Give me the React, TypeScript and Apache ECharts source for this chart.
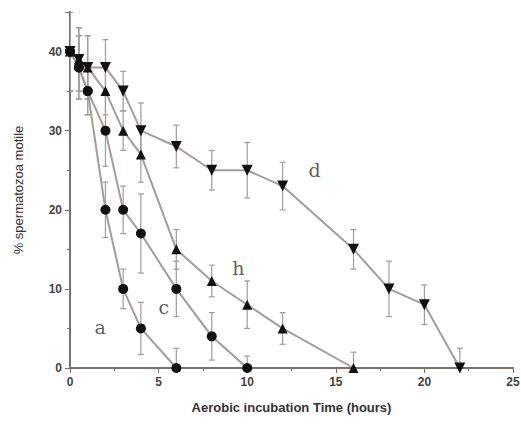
import React, { useEffect, useRef } from "react";
import * as echarts from "echarts";

// Aerobic incubation time (hours) and % motile spermatozoa, per curve
const hoursA = [0, 0.5, 1, 2, 3, 4, 6];
const valuesA = [40, 38, 35, 20, 10, 5, 0];
const errA = [5, 4, 3, 3.5, 2.5, 3.3, 2.5];

const hoursC = [0, 0.5, 1, 2, 3, 4, 6, 8, 10];
const valuesC = [40, 38, 35, 30, 20, 17, 10, 4, 0];
const errC = [5, 4, 3, 4.5, 3, 5, 3.5, 3, 1.5];

const hoursB = [0, 0.5, 1, 2, 3, 4, 6, 8, 10, 12, 16];
const valuesB = [40, 39, 38, 35, 30, 27, 15, 11, 8, 5, 0];
const errB = [5, 4, 4, 3, 2.5, 3.5, 2.5, 2, 3, 2, 2];

const hoursD = [0, 0.5, 1, 2, 3, 4, 6, 8, 10, 12, 16, 18, 20, 22];
const valuesD = [40, 39, 38, 38, 35, 30, 28, 25, 25, 23, 15, 10, 8, 0];
const errD = [5, 4, 4, 3.5, 2.5, 3.5, 2.7, 2.5, 3.5, 3, 2.5, 3.5, 2.5, 2.5];

// curve letters and their anchor positions in data units
const curveLabels = ["a", "c", "h", "d"];
const labelX = [1.7, 5.3, 9.5, 13.8];
const labelY = [5.2, 7.7, 12.7, 25];

const xTicks = [0, 5, 10, 15, 20, 25];
const yTicks = [0, 10, 20, 30, 40];

const DOWN_TRI = "path://M0,0 L10,0 L5,9 Z";

export default function App() {
  const ref = useRef<HTMLDivElement>(null);
  useEffect(() => {
    if (!ref.current) return;
    const chart = echarts.init(ref.current, null, { renderer: "svg" });

    const lineColor = "#a39d99";
    const errColor = "#9d9d9d";
    const axisColor = "#7a716c";

    const mkLine = (name: string, xs: number[], ys: number[], symbol: string, size: number) => ({
      name,
      type: "line",
      data: xs.map((x, i) => [x, ys[i]]),
      symbol,
      symbolSize: size,
      itemStyle: { color: "#111" },
      lineStyle: { color: lineColor, width: 2 },
      z: 3,
      clip: false,
    });

    const errData: number[][] = [];
    const addErr = (xs: number[], ys: number[], es: number[]) =>
      xs.forEach((x, i) => errData.push([x, ys[i] - es[i], ys[i] + es[i]]));
    addErr(hoursA, valuesA, errA);
    addErr(hoursC, valuesC, errC);
    addErr(hoursB, valuesB, errB);
    addErr(hoursD, valuesD, errD);

    chart.setOption({
      animation: false,
      backgroundColor: "#fff",
      grid: { left: 70, right: 8, top: 12, bottom: 57, containLabel: false, outerBoundsMode: "none" },
      xAxis: {
        type: "value",
        min: 0,
        max: 25,
        interval: 5,
        name: "Aerobic incubation Time (hours)",
        nameLocation: "middle",
        nameGap: 33,
        nameTextStyle: { fontFamily: "Liberation Sans", fontWeight: "bold", fontSize: 13, color: "#333" },
        axisLine: { lineStyle: { color: axisColor, width: 2 } },
        axisTick: { length: 5, lineStyle: { color: axisColor } },
        minorTick: { show: true, splitNumber: 2, length: 3, lineStyle: { color: axisColor } },
        splitLine: { show: false },
        axisLabel: {
          fontFamily: "Liberation Sans",
          fontWeight: "bold",
          fontSize: 12,
          color: "#444",
          margin: 8,
          overflow: "none",
          showMaxLabel: true,
          hideOverlap: false,
          formatter: (v: number) => (xTicks.includes(v) ? String(v) : ""),
        },
      },
      yAxis: {
        type: "value",
        min: 0,
        max: 45,
        interval: 10,
        name: "% spermatozoa motile",
        nameLocation: "middle",
        nameGap: 45,
        nameTextStyle: { fontFamily: "Liberation Sans", fontSize: 13, color: "#333" },
        axisLine: { show: true, lineStyle: { color: axisColor, width: 2 } },
        axisTick: { show: true, length: 5, lineStyle: { color: axisColor } },
        minorTick: { show: true, splitNumber: 2, length: 3, lineStyle: { color: axisColor } },
        splitLine: { show: false },
        axisLabel: {
          fontFamily: "Liberation Sans",
          fontWeight: "bold",
          fontSize: 12,
          color: "#444",
          margin: 8,
          formatter: (v: number) => (yTicks.includes(v) ? String(v) : ""),
        },
      },
      series: [
        {
          type: "custom",
          z: 1,
          clip: true,
          data: errData,
          renderItem: (params: any, api: any) => {
            const x = api.value(0);
            const lo = api.coord([x, api.value(1)]);
            const hi = api.coord([x, api.value(2)]);
            const cap = 3;
            const style = { stroke: errColor, lineWidth: 1.2 };
            return {
              type: "group",
              children: [
                { type: "line", shape: { x1: lo[0], y1: lo[1], x2: hi[0], y2: hi[1] }, style },
                { type: "line", shape: { x1: lo[0] - cap, y1: lo[1], x2: lo[0] + cap, y2: lo[1] }, style },
                { type: "line", shape: { x1: hi[0] - cap, y1: hi[1], x2: hi[0] + cap, y2: hi[1] }, style },
              ],
            };
          },
        },
        mkLine("a", hoursA, valuesA, "circle", 10),
        mkLine("c", hoursC, valuesC, "circle", 10),
        mkLine("b", hoursB, valuesB, "triangle", 10),
        mkLine("d", hoursD, valuesD, DOWN_TRI, 11),
        {
          type: "scatter",
          symbolSize: 0,
          z: 4,
          data: curveLabels.map((t, i) => ({ value: [labelX[i], labelY[i]], name: t })),
          label: {
            show: true,
            position: "inside",
            formatter: (p: any) => p.name,
            fontFamily: "DejaVu Serif",
            fontSize: 19,
            color: "#333",
          },
        },
      ],
    });
    return () => chart.dispose();
  }, []);
  return (
    <div
      ref={ref}
      style={{ position: "fixed", left: 0, top: 0, width: 521, height: 425 }}
    />
  );
}
